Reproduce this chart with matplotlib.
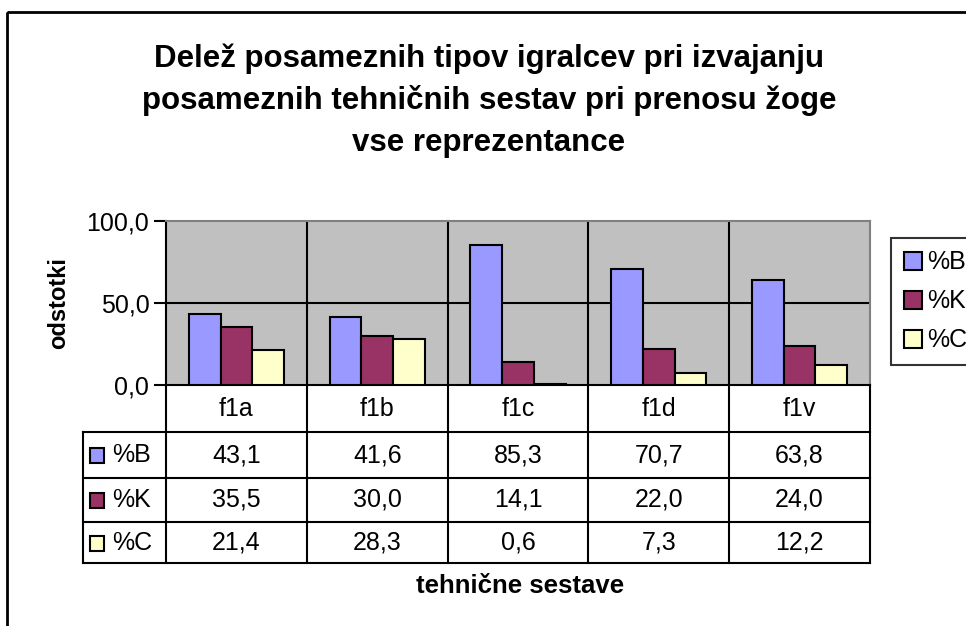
import numpy as np
import matplotlib
matplotlib.use('Agg')
import matplotlib.pyplot as plt
from matplotlib.patches import Rectangle

plt.rcParams['font.family'] = ['Liberation Sans', 'DejaVu Sans']

# data
kategorije = ['f1a', 'f1b', 'f1c', 'f1d', 'f1v']
serije = ['%B', '%K', '%C']
B = [43.1, 41.6, 85.3, 70.7, 63.8]
K = [35.5, 30.0, 14.1, 22.0, 24.0]
C = [21.4, 28.3, 0.6, 7.3, 12.2]
barve = ['#9999FF', '#993366', '#FFFFCC']
yticks = [0, 50, 100]

W, H = 966, 626
fig = plt.figure(figsize=(W/100, H/100), dpi=100)

# plot area in pixels
px_l, px_r, px_t, px_b = 166, 870, 221, 385
ax = fig.add_axes([px_l/W, 1-px_b/H, (px_r-px_l)/W, (px_b-px_t)/H])
ax.set_facecolor('#C0C0C0')

x = np.arange(len(kategorije))
w = 0.225
for i, (vals, c, lab) in enumerate(zip([B, K, C], barve, serije)):
    ax.bar(x + (i-1)*w, vals, w, color=c, edgecolor='black', linewidth=1.5, label=lab, zorder=3)

ax.set_xlim(-0.5, len(kategorije)-0.5)
ax.set_ylim(0, 100)
ax.set_yticks(yticks)
ax.set_yticklabels([('%.1f' % v).replace('.', ',') for v in yticks], fontsize=18)
ax.tick_params(axis='y', length=9, width=1.5, pad=3)
ax.set_xticks([])
ax.axhline(50, color='black', lw=1.5, zorder=1)
for b in np.arange(0.5, len(kategorije)-0.5, 1):
    ax.axvline(b, color='black', lw=1.5, zorder=1)
ax.spines['left'].set_linewidth(1.5)
ax.spines['bottom'].set_linewidth(1.5)
ax.spines['top'].set_color('#808080')
ax.spines['right'].set_color('#808080')
ax.spines['top'].set_linewidth(1.5)
ax.spines['right'].set_linewidth(1.5)
ax.set_ylabel('odstotki', fontsize=17, fontweight='bold', labelpad=12)

# legend (cut off at the right edge, as in the original)
leg = ax.legend(loc='upper left', bbox_to_anchor=(891/W, 1-238/H), bbox_transform=fig.transFigure,
                fontsize=18, frameon=True, fancybox=False, edgecolor='black',
                handlelength=0.75, handleheight=0.75, handletextpad=0.2,
                labelspacing=0.6, borderpad=0.5, borderaxespad=0)
leg.get_frame().set_linewidth(1.5)

# data table below the plot (x in category units, y in pixels)
tab = fig.add_axes([px_l/W, 0, (px_r-px_l)/W, 1])
tab.set_xlim(-0.5, len(kategorije)-0.5)
tab.set_ylim(H, 0)
tab.axis('off')
colw = (px_r-px_l)/len(kategorije)
lx = -0.5 - (px_l-83)/colw
rows = [432, 478, 522, 563]
kw = dict(color='black', lw=1.5, clip_on=False)
for b in np.arange(-0.5, len(kategorije), 1):
    tab.plot([b, b], [px_b, rows[-1]], **kw)
for r in rows:
    tab.plot([lx, len(kategorije)-0.5], [r, r], **kw)
tab.plot([lx, lx], [rows[0], rows[-1]], **kw)
for i, k in enumerate(kategorije):
    tab.text(i, (px_b+rows[0])/2, k, ha='center', va='center', fontsize=18)
for j, (vals, c, lab) in enumerate(zip([B, K, C], barve, serije)):
    yc = (rows[j]+rows[j+1])/2
    for i, v in enumerate(vals):
        tab.text(i, yc, ('%.1f' % v).replace('.', ','), ha='center', va='center', fontsize=18)
    kx = lx + 7/colw
    tab.add_patch(Rectangle((kx, yc-7), 14/colw, 15, facecolor=c, edgecolor='black', lw=1.5, clip_on=False))
    tab.text(lx + 29/colw, yc, lab, ha='left', va='center', fontsize=18)

# outer border and titles
ov = fig.add_axes([0, 0, 1, 1], zorder=-1)
ov.set_xlim(0, W)
ov.set_ylim(H, 0)
ov.axis('off')
ov.add_patch(Rectangle((7, 12), 1000, 700, fill=False, edgecolor='black', lw=2, clip_on=False))

naslov = ['Delež posameznih tipov igralcev pri izvajanju',
          'posameznih tehničnih sestav pri prenosu žoge',
          'vse reprezentance']
for n, yy in zip(naslov, [59, 101, 143]):
    fig.text(489/W, 1-yy/H, n, ha='center', va='center', fontsize=22.5, fontweight='bold')
fig.text(520/W, 1-586/H, 'tehnične sestave', ha='center', va='center', fontsize=18.5, fontweight='bold')

fig.savefig('out.png', dpi=100)
